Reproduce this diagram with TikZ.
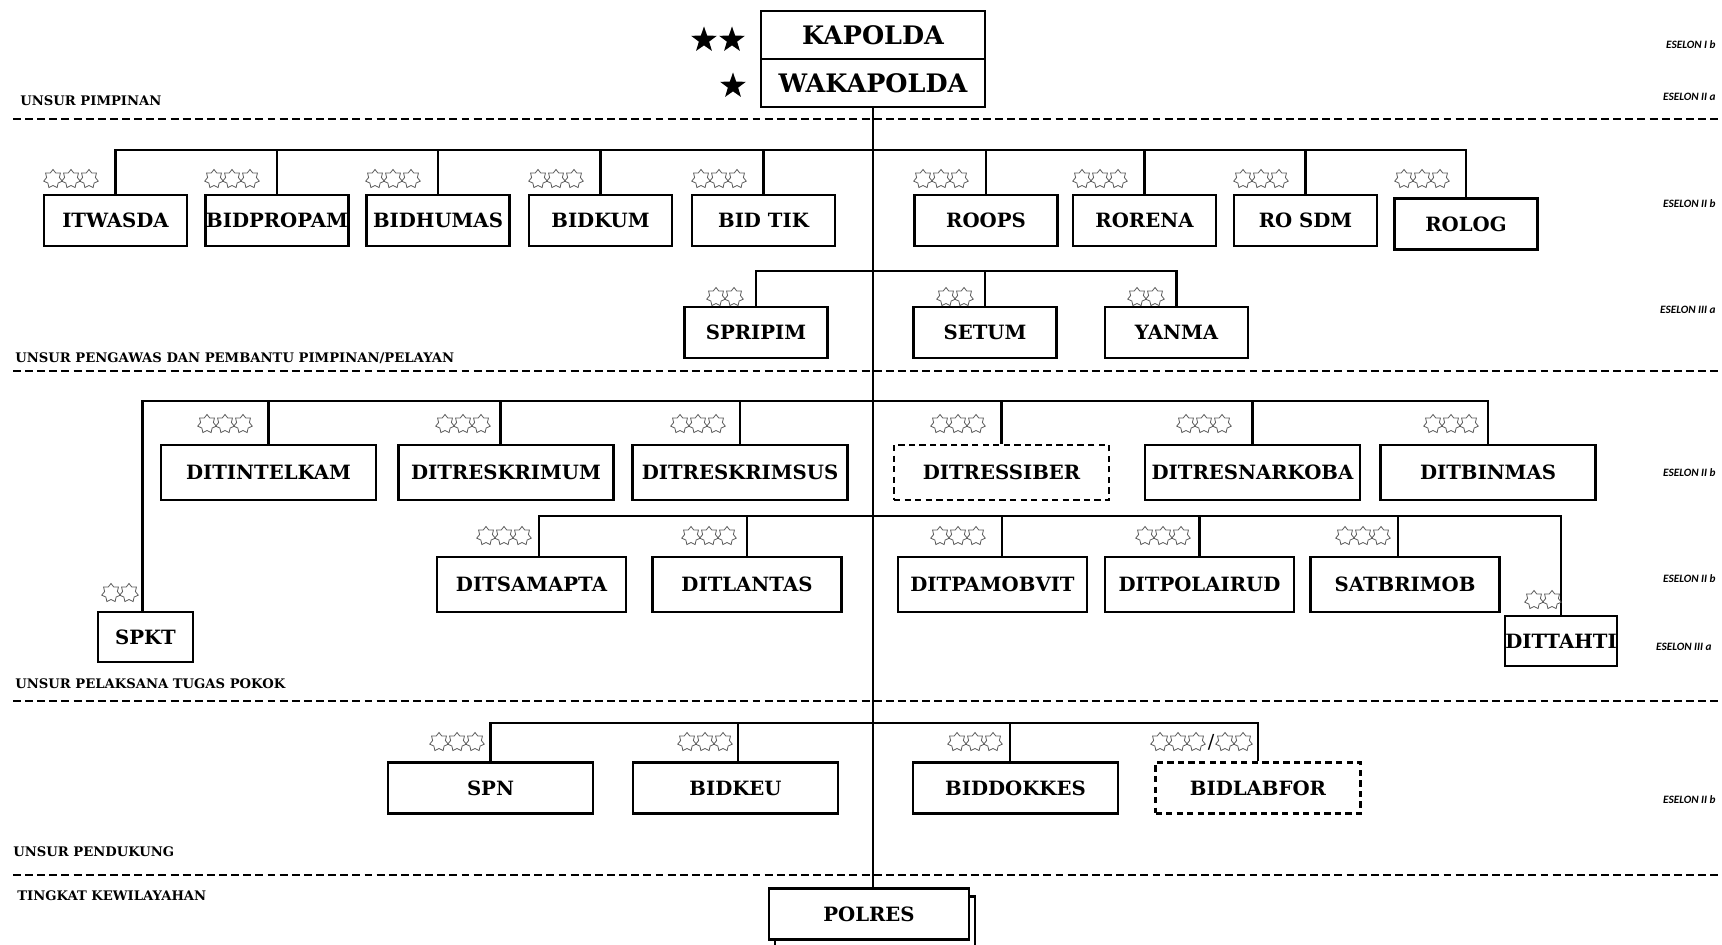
\documentclass[tikz,border=0pt]{standalone}
\usepackage{fontspec}
\setmainfont{DejaVu Serif}
\newfontfamily\eselonfont{Carlito}
\usetikzlibrary{shapes.geometric}

\tikzset{
  unit/.style={draw, line width=1.35pt, fill=white, inner sep=0pt, font=\bfseries\fontsize{11.2}{13}\selectfont},
  unitA/.style={unit, minimum width=2.86cm, minimum height=1.02cm},
  unitB/.style={unit, minimum width=4.3cm, minimum height=1.1cm},
  unitC/.style={unit, minimum width=3.78cm, minimum height=1.1cm},
  unitD/.style={unit, minimum width=4.1cm, minimum height=1.02cm},
  pimpinan/.style={unit, minimum width=4.48cm, minimum height=0.96cm, font=\bfseries\fontsize{14.5}{16}\selectfont},
  garis/.style={line width=1.25pt},
  batas/.style={line width=1.6pt, dash pattern=on 4.5pt off 2.4pt},
  putus/.style={dash pattern=on 3.6pt off 2.4pt},
  unsur/.style={anchor=west, inner sep=0pt, font=\bfseries\fontsize{7.5}{9}\selectfont},
  eselon/.style={anchor=east, inner sep=0pt, font=\eselonfont\bfseries\itshape\fontsize{6.4}{7}\selectfont},
  bintangputih/.style={star, star points=7, star point ratio=1.45, minimum size=0.38cm, inner sep=0pt, draw=black!65, line width=0.45pt},
  bintanghitam/.style={star, star points=5, star point ratio=2.5, minimum size=0.54cm, inner sep=0pt, fill=black},
  pics/bintang/.style={code={\foreach \i in {1,...,#1} \node[bintangputih] at (\i*18-9,0) {};}},
}

\begin{document}
\begin{tikzpicture}[x=0.02cm, y=-0.02cm]
  \useasboundingbox (0,0) rectangle (1722,945);
  \clip (0,0) rectangle (1722,945);

  \draw[batas] (13,119) -- (1722,119);
  \draw[batas] (13,371) -- (1722,371);
  \draw[batas] (13,701) -- (1722,701);
  \draw[batas] (13,875) -- (1722,875);

  \draw (20,101) node[unsur] (lbl1) {UNSUR PIMPINAN};
  \draw (15,358) node[unsur] (lbl2) {UNSUR PENGAWAS DAN PEMBANTU PIMPINAN/PELAYAN};
  \draw (15,684) node[unsur] (lbl3) {UNSUR PELAKSANA TUGAS POKOK};
  \draw (13,852) node[unsur] (lbl4) {UNSUR PENDUKUNG};
  \draw (17,896) node[unsur] (lbl5) {TINGKAT KEWILAYAHAN};

  \draw (1716,45) node[eselon] (es1) {ESELON I b};
  \draw (1716,97) node[eselon] (es2) {ESELON II a};
  \draw (1716,204) node[eselon] (es3) {ESELON II b};
  \draw (1716,310) node[eselon] (es4) {ESELON III a};
  \draw (1716,473) node[eselon] (es5) {ESELON II b};
  \draw (1716,579) node[eselon] (es6) {ESELON II b};
  \draw (1712,647) node[eselon] (es7) {ESELON III a};
  \draw (1716,800) node[eselon] (es8) {ESELON II b};

  % pimpinan
  \draw (873,35) node[pimpinan] (kapolda) {KAPOLDA};
  \draw (873,83) node[pimpinan] (wakapolda) {WAKAPOLDA};
  \node[bintanghitam] (bk1) at (704,40) {};
  \node[bintanghitam] (bk2) at (732,40) {};
  \node[bintanghitam] (bw1) at (733,86) {};

  % pengawas dan pembantu pimpinan
  \draw (115.5,220.5) node[unitA] (itwasda) {ITWASDA};
  \draw (277,220.5) node[unitA] (bidpropam) {BIDPROPAM};
  \draw (438,220.5) node[unitA] (bidhumas) {BIDHUMAS};
  \draw (600.5,220.5) node[unitA] (bidkum) {BIDKUM};
  \draw (763.5,220.5) node[unitA] (bidtik) {BID TIK};
  \draw (986,220.5) node[unitA] (roops) {ROOPS};
  \draw (1144.5,220.5) node[unitA] (rorena) {RORENA};
  \draw (1305.5,220.5) node[unitA] (rosdm) {RO SDM};
  \draw (1466,224) node[unitA] (rolog) {ROLOG};

  \draw (756,332.5) node[unitA] (spripim) {SPRIPIM};
  \draw (985,332.5) node[unitA] (setum) {SETUM};
  \draw (1176.5,332.5) node[unitA] (yanma) {YANMA};

  % pelaksana tugas pokok
  \draw (268.5,472.5) node[unitB] (ditintelkam) {DITINTELKAM};
  \draw (506,472.5) node[unitB] (ditreskrimum) {DITRESKRIMUM};
  \draw (740,472.5) node[unitB] (ditreskrimsus) {DITRESKRIMSUS};
  \draw (1001.5,472.5) node[unitB, putus] (ditressiber) {DITRESSIBER};
  \draw (1252.5,472.5) node[unitB] (ditresnarkoba) {DITRESNARKOBA};
  \draw (1488,472.5) node[unitB] (ditbinmas) {DITBINMAS};

  \draw (531.5,584.5) node[unitC] (ditsamapta) {DITSAMAPTA};
  \draw (747,584.5) node[unitC] (ditlantas) {DITLANTAS};
  \draw (992.5,584.5) node[unitC] (ditpamobvit) {DITPAMOBVIT};
  \draw (1199.5,584.5) node[unitC] (ditpolairud) {DITPOLAIRUD};
  \draw (1405,584.5) node[unitC] (satbrimob) {SATBRIMOB};
  \draw (1561,641) node[unit, minimum width=2.08cm, minimum height=1cm] (dittahti) {DITTAHTI};
  \draw (145.5,637) node[unit, minimum width=1.9cm, minimum height=1cm] (spkt) {SPKT};

  % pendukung
  \draw (490.5,788) node[unitD] (spn) {SPN};
  \draw (735.5,788) node[unitD] (bidkeu) {BIDKEU};
  \draw (1015.5,788) node[unitD] (biddokkes) {BIDDOKKES};
  \draw (1258,788) node[unitD, putus] (bidlabfor) {BIDLABFOR};

  % kewilayahan
  \draw (875,922) node[unit, minimum width=4cm, minimum height=1.02cm] (polres2) {};
  \draw (869,914) node[unit, minimum width=4cm, minimum height=1.02cm] (polres) {POLRES};

  % garis komando
  \coordinate (bus1) at (0,150);
  \coordinate (bus2) at (0,271);
  \coordinate (bus3) at (0,401);
  \coordinate (bus4) at (0,516);
  \coordinate (bus5) at (0,723);

  \draw[garis] (wakapolda.south) -- (wakapolda.south |- polres.north);
  \draw[garis] (itwasda.north) |- (bus1 -| rolog.north) -- (rolog.north);
  \foreach \n in {bidpropam,bidhumas,bidkum,bidtik,roops,rorena,rosdm}
    \draw[garis] (\n.north) -- (\n.north |- bus1);
  \draw[garis] (spripim.north) |- (bus2 -| yanma.north) -- (yanma.north);
  \draw[garis] (setum.north) -- (setum.north |- bus2);
  \draw[garis] ([xshift=-0.06cm]spkt.north) |- (bus3 -| ditbinmas.north) -- (ditbinmas.north);
  \foreach \n/\s in {ditintelkam/0,ditreskrimum/-0.11,ditreskrimsus/0,ditressiber/0,ditresnarkoba/0}
    \draw[garis] ([xshift=\s cm]\n.north) -- ([xshift=\s cm]\n.north |- bus3);
  \draw[garis] ([xshift=0.15cm]ditsamapta.north) |- (bus4 -| dittahti.north) -- (dittahti.north);
  \foreach \n/\s in {ditlantas/0,ditpamobvit/0.19,ditpolairud/0,satbrimob/-0.14}
    \draw[garis] ([xshift=\s cm]\n.north) -- ([xshift=\s cm]\n.north |- bus4);
  \draw[garis] (spn.north) |- (bus5 -| bidlabfor.north) -- (bidlabfor.north);
  \foreach \n/\s in {bidkeu/0.05,biddokkes/-0.11}
    \draw[garis] ([xshift=\s cm]\n.north) -- ([xshift=\s cm]\n.north |- bus5);

  % bintang
  \foreach \x in {44,205,366,529,692,914,1073,1234,1395}
    \pic at (\x,179) {bintang=3};
  \foreach \x in {707,937,1128}
    \pic at (\x,297) {bintang=2};
  \foreach \x in {198,436,671,931,1177,1424}
    \pic at (\x,424) {bintang=3};
  \foreach \x in {477,682,931,1136,1336}
    \pic at (\x,536) {bintang=3};
  \pic at (102,593) {bintang=2};
  \pic at (1525,600) {bintang=2};
  \foreach \x in {430,678,948,1151}
    \pic at (\x,742) {bintang=3};
  \draw (1211,742) node[font=\fontsize{11}{12}\selectfont] (garismiring) {/};
  \pic at (1216,742) {bintang=2};
\end{tikzpicture}
\end{document}
